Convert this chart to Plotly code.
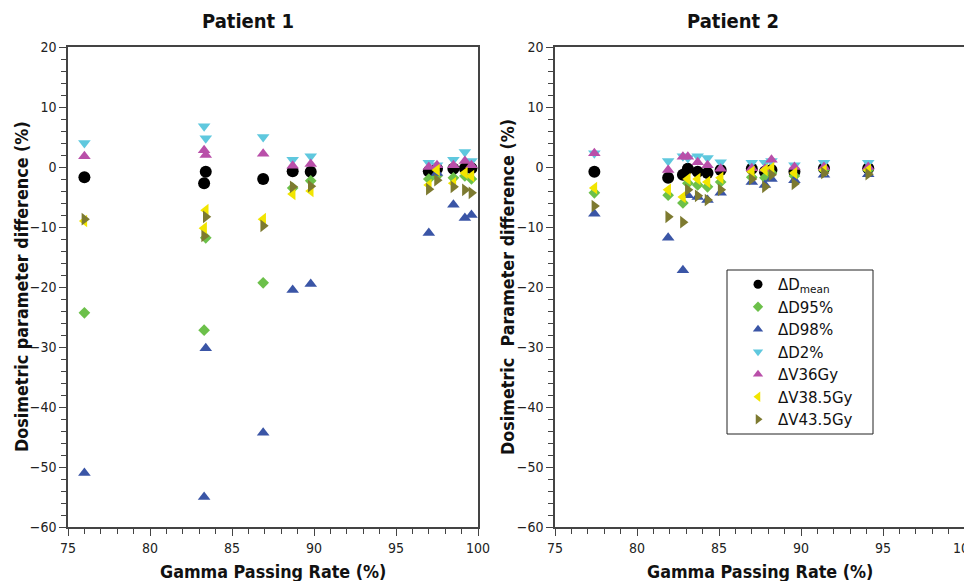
import plotly.graph_objects as go

# ---------------- data ----------------
series_names = ["ΔD<sub>mean</sub>", "ΔD95%", "ΔD98%", "ΔD2%", "ΔV36Gy", "ΔV38.5Gy", "ΔV43.5Gy"]
series_symbols = ["circle", "diamond", "triangle-up", "triangle-down", "triangle-up", "triangle-left", "triangle-right"]
series_colors = ["#000000", "#6cc04a", "#3a55a6", "#5fc8de", "#b94fa9", "#f2e500", "#7d7a30"]
series_sizes = [12, 9, 11, 11, 11, 11, 11]

p1_gpr = [76.0, 83.3, 83.4, 86.9, 88.7, 89.8, 97.0, 97.5, 98.5, 99.2, 99.6]
p1_dmean = [-1.7, -2.7, -0.8, -2.0, -0.7, -0.8, -0.7, -0.3, -0.3, -0.2, -0.2]
p1_d95 = [-24.3, -27.2, -11.8, -19.3, -3.5, -2.3, -2.0, -1.5, -1.8, -1.5, -2.0]
p1_d98 = [-51.0, -55.0, -30.2, -44.3, -20.5, -19.5, -11.0, -1.0, -6.3, -8.5, -8.0]
p1_d2 = [4.0, 6.8, 4.8, 5.0, 1.2, 1.8, 0.7, 0.3, 1.2, 2.5, 1.0]
p1_v36 = [1.8, 2.8, 2.0, 2.2, 0.2, 0.5, 0.0, 0.3, 0.3, 1.0, 0.3]
p1_v385 = [-9.0, -10.2, -7.2, -8.7, -4.5, -4.0, -3.0, -0.5, -2.7, -1.0, -1.5]
p1_v435 = [-8.7, -11.5, -8.3, -9.8, -3.3, -3.2, -3.7, -2.2, -3.3, -3.8, -4.3]

p2_gpr = [77.4, 81.9, 82.8, 83.1, 83.7, 84.3, 85.1, 87.0, 87.8, 88.2, 89.6, 91.4, 94.1]
p2_dmean = [-0.8, -1.8, -1.3, -0.3, -0.8, -1.0, -0.5, -0.3, -0.8, -0.5, -0.8, -0.2, -0.2]
p2_d95 = [-4.3, -4.7, -6.0, -2.7, -3.0, -3.3, -2.5, -1.7, -1.8, -1.0, -1.5, -0.5, -0.5]
p2_d98 = [-7.8, -11.8, -17.2, -4.7, -5.0, -5.5, -4.3, -2.5, -3.0, -2.0, -2.2, -1.3, -1.2]
p2_d2 = [2.3, 1.0, 1.8, 1.5, 1.8, 1.5, 0.8, 0.7, 0.7, 1.0, 0.3, 0.7, 0.7]
p2_v36 = [2.3, -0.5, 1.7, 1.7, 0.8, 0.3, -0.3, -0.2, -0.3, 1.2, 0.0, 0.0, 0.0]
p2_v385 = [-3.5, -3.8, -5.0, -2.0, -2.0, -2.5, -1.8, -0.8, -0.5, -0.2, -1.0, -0.5, -0.5]
p2_v435 = [-6.5, -8.3, -9.2, -3.8, -4.8, -5.5, -3.8, -2.0, -3.3, -1.3, -2.8, -1.0, -1.2]

panel_titles = ["Patient 1", "Patient 2"]
x_title = "Gamma Passing Rate (%)"
y_titles = ["Dosimetric parameter difference (%)", "Dosimetric  Parameter difference (%)"]

p1_series = [p1_dmean, p1_d95, p1_d98, p1_d2, p1_v36, p1_v385, p1_v435]
p2_series = [p2_dmean, p2_d95, p2_d98, p2_d2, p2_v36, p2_v385, p2_v435]

# ---------------- figure ----------------
OFF = 8  # page body margin
W, H = 972 - OFF, 581 - OFF


def fx(px):
    return (px - OFF) / W


def fy(py):
    return 1 - (py - OFF) / H


fig = go.Figure()

for i in range(len(series_names)):
    fig.add_trace(go.Scatter(
        x=p1_gpr, y=p1_series[i], mode="markers", name=series_names[i],
        marker=dict(symbol=series_symbols[i], color=series_colors[i], size=series_sizes[i], line=dict(width=0)),
        xaxis="x", yaxis="y", showlegend=False))
for i in range(len(series_names)):
    fig.add_trace(go.Scatter(
        x=p2_gpr, y=p2_series[i], mode="markers", name=series_names[i],
        marker=dict(symbol=series_symbols[i], color=series_colors[i], size=series_sizes[i], line=dict(width=0)),
        xaxis="x2", yaxis="y2", showlegend=False))
# legend entries (smaller symbols, as in the reference legend)
for i in range(len(series_names)):
    fig.add_trace(go.Scatter(
        x=[None], y=[None], mode="markers", name=series_names[i],
        marker=dict(symbol=series_symbols[i], color=series_colors[i], size=9 if i != 1 else 8, line=dict(width=0)),
        xaxis="x2", yaxis="y2", showlegend=True))

tick_font = dict(family="DejaVu Sans Condensed, DejaVu Sans", size=14, color="#222")
axis_common = dict(showline=True, linecolor="#444", linewidth=1.5, mirror=True,
                   ticks="outside", ticklen=7, tickwidth=1.2, tickcolor="#444",
                   showgrid=False, zeroline=False, tickfont=tick_font, ticklabeloverflow="allow")

xa = dict(range=[75, 100], dtick=5, tick0=75,
          minor=dict(dtick=1, ticks="outside", ticklen=5, tickcolor="#444", tickwidth=1, showgrid=False),
          **axis_common)
ya = dict(range=[-60, 20], dtick=10, tick0=0,
          minor=dict(dtick=2, ticks="outside", ticklen=5, tickcolor="#444", tickwidth=1, showgrid=False),
          **axis_common)

left = (fx(68), fx(478))
right = (fx(555), fx(965))
ydom = (fy(527), fy(47))

fig.update_layout(
    width=W, height=H,
    margin=dict(l=0, r=0, t=0, b=0, autoexpand=False),
    paper_bgcolor="white", plot_bgcolor="white",
    xaxis=dict(domain=left, anchor="y", **xa),
    yaxis=dict(domain=ydom, anchor="x", **ya),
    xaxis2=dict(domain=right, anchor="y2", **xa),
    yaxis2=dict(domain=ydom, anchor="x2", **ya),
    legend=dict(x=fx(738), y=fy(268), xanchor="left", yanchor="top",
                bgcolor="rgba(0,0,0,0)", borderwidth=0,
                font=dict(family="DejaVu Sans", size=15, color="#111"),
                itemsizing="trace", tracegroupgap=0),
    font=dict(family="DejaVu Sans Condensed, DejaVu Sans"),
    shapes=[dict(type="rect", xref="paper", yref="paper", x0=fx(727), x1=fx(873), y0=fy(434), y1=fy(270),
                 line=dict(color="#222", width=1), fillcolor="white", layer="above")],
)

title_font = dict(family="DejaVu Sans Condensed, DejaVu Sans", size=20, color="#111", weight="bold")
label_font = dict(family="DejaVu Sans Condensed, DejaVu Sans", size=17.8, color="#111", weight="bold")

annots = []
for k, (dom, cx) in enumerate([(left, 248), (right, 733)]):
    annots.append(dict(text="<b>%s</b>" % panel_titles[k], x=fx(cx), y=fy(21), xref="paper", yref="paper",
                       showarrow=False, font=title_font, xanchor="center", yanchor="middle"))
    annots.append(dict(text="<b>%s</b>" % x_title, x=(dom[0] + dom[1]) / 2, y=fy(571),
                       xref="paper", yref="paper", showarrow=False, font=label_font,
                       xanchor="center", yanchor="middle"))
for k, px in enumerate([21, 507]):
    annots.append(dict(text="<b>%s</b>" % y_titles[k], x=fx(px), y=(ydom[0] + ydom[1]) / 2,
                       xref="paper", yref="paper", showarrow=False, font=label_font,
                       textangle=-90, xanchor="center", yanchor="middle"))
fig.update_layout(annotations=annots)

fig.write_html("out.html")
